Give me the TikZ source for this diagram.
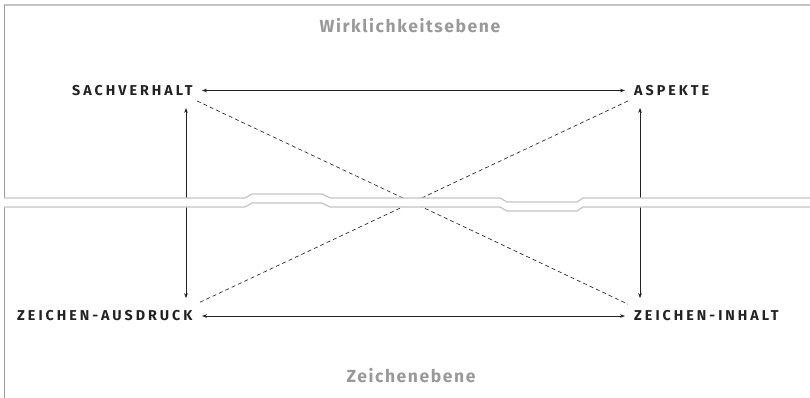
\documentclass[tikz,border=0pt]{standalone}
\usepackage{fontspec}
\setmainfont{Fira Sans}
\newfontfamily\lblfont[LetterSpace=21]{Fira Sans}
\newfontfamily\levelfont[LetterSpace=9]{Fira Sans}
\usetikzlibrary{arrows.meta}
\definecolor{frameA}{HTML}{C4C4C4}
\definecolor{frameB}{HTML}{9A9A9A}
\definecolor{levelgray}{HTML}{999999}
\definecolor{ink}{HTML}{222222}
\tikzset{
  lbl/.style={inner sep=0pt, font=\lblfont\bfseries\fontsize{14.3}{16}\selectfont, text=ink},
  level/.style={inner sep=0pt, font=\levelfont\bfseries\fontsize{17.5}{19}\selectfont, text=levelgray},
  arr/.style={draw=ink, line width=0.6pt, {Stealth[length=5pt,width=3.6pt]}-{Stealth[length=5pt,width=3.6pt]}},
  dsh/.style={draw=ink, line width=0.65pt, dash pattern=on 4pt off 3pt},
  frameline/.style={draw=frameB, line width=0.9pt},
}
\begin{document}
\begin{tikzpicture}[x=1pt,y=-1pt]
\useasboundingbox (0,0) rectangle (810,398);
% labels
\node[level, anchor=base] (wirk) at (410,33) {Wirklichkeitsebene};
\node[level, anchor=base] (zeb) at (411,382.5) {Zeichenebene};
\node[lbl, anchor=base west] (sach) at (72,95.5) {SACHVERHALT};
\node[lbl, anchor=base west] (asp) at (634,95.5) {ASPEKTE};
\node[lbl, anchor=base west] (zaus) at (17,320.5) {ZEICHEN-AUSDRUCK};
\node[lbl, anchor=base west] (zinh) at (634,320.5) {ZEICHEN-INHALT};
% connector end points
\coordinate (lt) at ([yshift=-12pt]sach.south -| 186,0);
\coordinate (rt) at ([xshift=6pt,yshift=-12pt]asp.south west);
\coordinate (ht) at ([yshift=-5pt]sach.south -| 197,0);
\coordinate (hb) at ([yshift=7pt]zaus.north -| 198,0);
% connectors
\draw[arr] (sach.base -| 202,0) ++(0,-5) coordinate (a1) -- (a1 -| 625,0);
\draw[arr] (zaus.base -| 202,0) ++(0,-4.5) coordinate (a2) -- (a2 -| 625,0);
\draw[arr] (lt) -- ([yshift=12pt]zaus.north -| lt);
\draw[arr] (rt) -- ([yshift=12pt]zinh.north -| rt);
\draw[dsh] (ht) -- ([xshift=-6pt,yshift=6pt]zinh.north west);
\draw[dsh] ([xshift=-6pt,yshift=-5pt]asp.south west) -- (hb);
% gap between the two levels
\fill[white] (4,198) -- (245,198) -- (252,194) -- (322,194) -- (330,198) -- (500,198) -- (507,202) -- (577,202) -- (583,198) -- (810,198)
  -- (810,207) -- (583,207) -- (577,211) -- (507,211) -- (500,207) -- (330,207) -- (322,203) -- (252,203) -- (245,207) -- (4,207) -- cycle;
% upper frame
\draw[draw=frameA, line width=1.6pt] (3.5,5) -- (810,5);
\draw[frameline] (4,5) -- (4,198);
\draw[draw=frameA, line width=1.2pt] (4,198) -- (245,198) -- (252,194) -- (322,194) -- (330,198) -- (500,198) -- (507,202) -- (577,202) -- (583,198) -- (810,198);
% lower frame
\draw[frameline] (4,398) -- (4,207);
\draw[draw=frameA, line width=1.2pt] (4,207) -- (245,207) -- (252,203) -- (322,203) -- (330,207) -- (500,207) -- (507,211) -- (577,211) -- (583,207) -- (810,207);
\end{tikzpicture}
\end{document}
